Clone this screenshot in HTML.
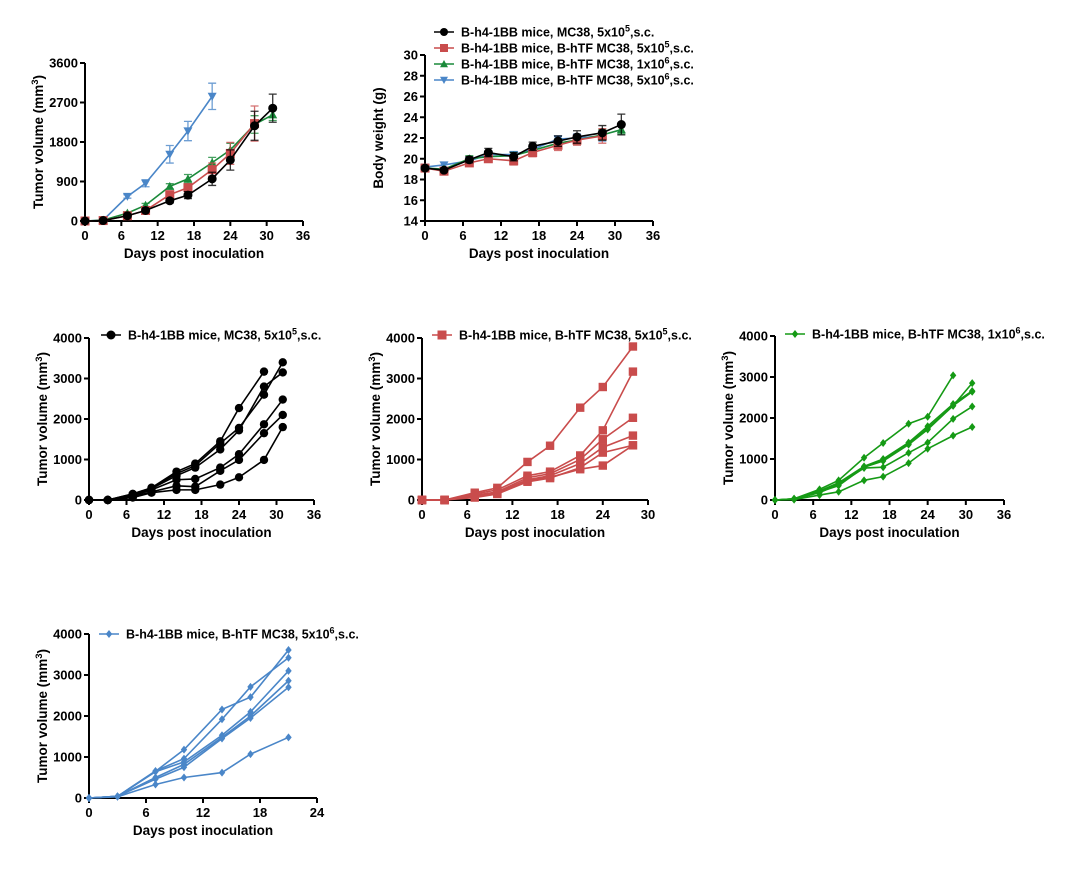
<!DOCTYPE html>
<html><head><meta charset="utf-8"><style>
body{margin:0;background:#fff;width:1080px;height:880px;overflow:hidden}
svg text{font-family:"Liberation Sans",Arial,sans-serif;font-weight:bold;fill:#000}
</style></head><body>
<svg id="s" width="1080" height="880" xmlns="http://www.w3.org/2000/svg"></svg>
<script>
const S=document.getElementById('s');let h='';
const D=[0,3,7,10,14,17,21,24,28,31];
const C={k:'#000',r:'#c94c4c',g:'#1a8a3a',b:'#4a86c8',g2:'#159a15'};
function mk(t,x,y,c,sz){
 if(t=='o')return `<circle cx="${x}" cy="${y}" r="${sz}" fill="${c}"/>`;
 if(t=='s')return `<rect x="${x-sz}" y="${y-sz}" width="${2*sz}" height="${2*sz}" fill="${c}"/>`;
 if(t=='^')return `<polygon points="${x},${y-sz} ${x+sz},${y+sz*0.8} ${x-sz},${y+sz*0.8}" fill="${c}"/>`;
 if(t=='v')return `<polygon points="${x},${y+sz} ${x+sz},${y-sz*0.8} ${x-sz},${y-sz*0.8}" fill="${c}"/>`;
 if(t=='d')return `<polygon points="${x},${y-sz} ${x+sz*0.8},${y} ${x},${y+sz} ${x-sz*0.8},${y}" fill="${c}"/>`;
}
function axes(a){
 const {x0,y0,x1,y1,xmax,xstep,ymin,ymax,ystep,ylab}=a;
 h+=`<line x1="${x0}" y1="${y0}" x2="${x1}" y2="${y0}" stroke="#000" stroke-width="2"/>`;
 h+=`<line x1="${x0}" y1="${y0}" x2="${x0}" y2="${y1}" stroke="#000" stroke-width="2"/>`;
 for(let v=0;v<=xmax;v+=xstep){const x=x0+(x1-x0)*v/xmax;
  h+=`<line x1="${x}" y1="${y0}" x2="${x}" y2="${y0+5}" stroke="#000" stroke-width="2"/>`;
  h+=`<text x="${x}" y="${y0+19}" font-size="13" text-anchor="middle">${v}</text>`;}
 for(let v=ymin;v<=ymax;v+=ystep){const y=y0-(y0-y1)*(v-ymin)/(ymax-ymin);
  h+=`<line x1="${x0-5}" y1="${y}" x2="${x0}" y2="${y}" stroke="#000" stroke-width="2"/>`;
  h+=`<text x="${x0-7}" y="${y+4.5}" font-size="13" text-anchor="end">${v}</text>`;}
 h+=`<text x="${(x0+x1)/2}" y="${y0+37}" font-size="13.5" text-anchor="middle">Days post inoculation</text>`;
 const cy=(y0+y1)/2;
 h+=`<text transform="translate(${x0-42},${cy}) rotate(-90)" font-size="13.5" text-anchor="middle">${ylab}</text>`;
}
const TV='Tumor volume (mm<tspan dy="-5" font-size="9.5">3</tspan><tspan dy="5">)</tspan>';
function series(a,vals,c,m,sz,err){
 const X=v=>a.x0+(a.x1-a.x0)*v/a.xmax,Y=v=>a.y0-(a.y0-a.y1)*(v-a.ymin)/(a.ymax-a.ymin);
 let p=vals.map((v,i)=>X(D[i])+','+Y(v)).join(' ');
 h+=`<polyline points="${p}" fill="none" stroke="${c}" stroke-width="1.6"/>`;
 vals.forEach((v,i)=>{const x=X(D[i]),y=Y(v);
  if(err){const e=err[i]||0;if(e){h+=`<path d="M${x},${Y(v-e)}V${Y(v+e)}M${x-4},${Y(v-e)}h8M${x-4},${Y(v+e)}h8" stroke="${c}" stroke-width="1.3" fill="none" opacity="0.8"/>`;}}
  h+=mk(m,x,y,c,sz);});
}
function legend(x,y,c,m,sz,txt){
 h+=`<line x1="${x}" y1="${y}" x2="${x+20}" y2="${y}" stroke="${c}" stroke-width="1.6"/>`+mk(m,x+10,y,c,sz);
 h+=`<text x="${x+27}" y="${y+4.5}" font-size="12.5">${txt}</text>`;
}
const sup=s=>`<tspan dy="-5" font-size="9">${s}</tspan><tspan dy="5">`;
// Chart 1
let A={x0:85,y0:221,x1:303,y1:63,xmax:36,xstep:6,ymin:0,ymax:3600,ystep:900,ylab:TV};
axes(A);
series(A,[0,20,560,860,1520,2050,2840],C.b,'v',4.5,[0,0,40,80,200,220,300]);
series(A,[0,20,180,360,790,960,1330,1620,2200,2420],C.g,'^',4.5,[0,0,30,40,60,100,120,150,200,130]);
series(A,[0,10,120,240,600,760,1170,1540,2220],C.r,'s',4.5,[0,0,20,30,60,80,150,250,400]);
series(A,[0,10,120,240,460,590,960,1390,2170,2570],C.k,'o',4.5,[0,0,20,30,50,80,150,230,330,320]);
// Chart 2
A={x0:425,y0:221,x1:653,y1:55,xmax:36,xstep:6,ymin:14,ymax:30,ystep:2,ylab:'Body weight (g)'};
axes(A);
series(A,[19.2,19.4,19.8,20.4,20.4,20.9,21.9,22.0,22.2],C.b,'v',4.5,[0,0,.3,.3,.3,.3,.3,.4,.5]);
series(A,[19.1,19.0,20.0,20.2,20.3,20.8,21.5,21.8,22.3,22.8],C.g,'^',4.5,[0,0,.3,.3,.3,.4,.4,.4,.5,.4]);
series(A,[19.1,18.8,19.6,20.0,19.8,20.6,21.3,21.8,22.2],C.r,'s',4.5,[0,0,.3,.3,.4,.4,.5,.5,.7]);
series(A,[19.1,18.9,19.9,20.6,20.2,21.2,21.7,22.1,22.5,23.3],C.k,'o',4.5,[0,0,.3,.4,.4,.4,.5,.6,.7,1]);
const L=['MC38, 5x10'+sup(5)+',s.c.</tspan>','B-hTF MC38, 5x10'+sup(5)+',s.c.</tspan>','B-hTF MC38, 1x10'+sup(6)+',s.c.</tspan>','B-hTF MC38, 5x10'+sup(6)+',s.c.</tspan>'];
legend(434,32,C.k,'o',4,'B-h4-1BB mice, '+L[0]);
legend(434,48,C.r,'s',4,'B-h4-1BB mice, '+L[1]);
legend(434,64,C.g,'^',4,'B-h4-1BB mice, '+L[2]);
legend(434,80,C.b,'v',4,'B-h4-1BB mice, '+L[3]);
// Chart 3
A={x0:89,y0:500,x1:314,y1:338,xmax:36,xstep:6,ymin:0,ymax:4000,ystep:1000,ylab:TV};axes(A);
[[0,0,150,300,700,900,1450,2270,3170],[0,0,150,300,650,850,1400,1780,2600,3400],[0,0,120,280,600,800,1250,1720,2800,3150],[0,0,100,250,500,520,800,1130,1870,2480],[0,0,80,200,350,330,720,990,1650,2100],[0,0,60,180,250,250,380,560,990,1800]].forEach(v=>series(A,v,C.k,'o',4.2));
legend(101,335,C.k,'o',4.5,'B-h4-1BB mice, '+L[0]);
// Chart 4
A={x0:422,y0:500,x1:648,y1:338,xmax:30,xstep:6,ymin:0,ymax:4000,ystep:1000,ylab:TV};axes(A);
[[0,0,180,300,940,1340,2280,2790,3790],[0,0,150,250,600,700,1100,1720,3170],[0,0,120,200,550,650,1000,1500,2030],[0,0,100,180,500,600,900,1300,1590],[0,0,80,150,450,540,800,1170,1350],[0,0,60,150,480,560,760,850,1350]].forEach(v=>series(A,v,C.r,'s',4.2));
legend(432,335,C.r,'s',4.5,'B-h4-1BB mice, '+L[1]);
// Chart 5
A={x0:775,y0:500,x1:1004,y1:336,xmax:36,xstep:6,ymin:0,ymax:4000,ystep:1000,ylab:TV};axes(A);
[[0,30,260,480,1030,1390,1860,2030,3040],[0,30,220,420,820,1000,1400,1800,2340,2660],[0,30,200,400,800,980,1370,1750,2300,2850],[0,20,180,380,780,800,1150,1400,1980,2280],[0,10,120,200,480,570,900,1250,1570,1780],[0,20,200,350,800,950,1350,1720,2300,2640]].forEach(v=>series(A,v,C.g2,'d',4));
legend(785,334,C.g2,'d',4,'B-h4-1BB mice, '+L[2]);
// Chart 6
A={x0:89,y0:798,x1:317,y1:634,xmax:24,xstep:6,ymin:0,ymax:4000,ystep:1000,ylab:TV};axes(A);
[[0,40,650,1180,2160,2460,3610],[0,40,660,960,1920,2710,3420],[0,40,640,880,1530,2100,3100],[0,40,500,820,1480,2000,2860],[0,40,460,750,1450,1950,2700],[0,30,330,500,620,1070,1480]].forEach(v=>series(A,v,C.b,'d',4));
legend(99,634,C.b,'d',4,'B-h4-1BB mice, '+L[3]);
S.innerHTML=h;
</script>
</body></html>
